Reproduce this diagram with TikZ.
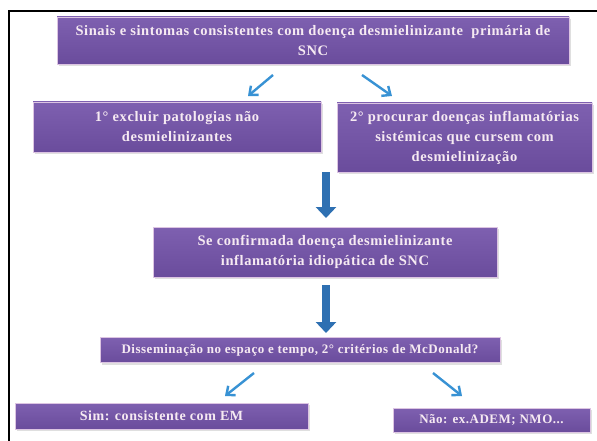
\documentclass[tikz,border=0pt]{standalone}
\usepackage{fontspec}
\setmainfont{Liberation Serif}
\newfontfamily\boxfont[LetterSpace=4]{Liberation Serif}
\usetikzlibrary{arrows.meta,shadows}
\definecolor{boxtop}{RGB}{126,96,176}
\definecolor{boxbot}{RGB}{106,76,156}
\definecolor{boxtext}{RGB}{246,234,242}
\definecolor{thinblue}{RGB}{56,146,212}
\definecolor{blockblue}{RGB}{46,112,178}
\definecolor{boxedge}{RGB}{220,196,226}
\begin{document}
\begin{tikzpicture}[x=1pt,y=-1pt,
  fbox/.style={rectangle, top color=boxtop, bottom color=boxbot, draw=boxedge,
    line width=0.8pt, text=boxtext, font=\boxfont\bfseries\fontsize{14.5}{20}\selectfont,
    align=center, inner sep=0pt,
    drop shadow={opacity=0.25, shadow xshift=1.5pt, shadow yshift=-2pt}},
  smalltext/.style={font=\boxfont\bfseries\fontsize{13}{20}\selectfont},
  midtext/.style={font=\boxfont\bfseries\fontsize{14}{20}\selectfont},
  thinarrow/.style={draw=thinblue, line width=2.4pt, -{Straight Barb[length=7pt,width=12pt]}},
  blockarrow/.style={draw=blockblue, line width=8pt, -{Triangle[length=11pt,width=20pt]}}]
\useasboundingbox (0,0) rectangle (597,441);
\fill[white] (0,0) rectangle (597,441);
\draw[line width=1.2pt] (9,441) -- (9,11) -- (597,11);

\node[fbox, minimum width=512pt, minimum height=47pt] (b1) at (313,40.5)
  {Sinais e sintomas consistentes com doença desmielinizante\ \ primária de\\SNC};
\node[fbox, minimum width=288pt, minimum height=50pt] (b2) at (177,127)
  {1° excluir patologias não\\desmielinizantes};
\node[fbox, minimum width=255pt, minimum height=69pt] (b3) at (464.5,137.5)
  {2° procurar doenças inflamatórias\\sistémicas que cursem com\\desmielinização};
\node[fbox, minimum width=344pt, minimum height=50pt] (b4) at (325,252)
  {Se confirmada doença desmielinizante\\inflamatória idiopática de SNC};
\node[fbox, smalltext, minimum width=400pt, minimum height=25pt] (b5) at (300,350)
  {Disseminação no espaço e tempo, 2° critérios de McDonald?};
\node[fbox, midtext, minimum width=293pt, minimum height=26pt] (b6) at (161.5,416)
  {Sim: consistente com EM};
\node[fbox, smalltext, minimum width=197pt, minimum height=24pt] (b7) at (491.5,420)
  {Não: ex.ADEM; NMO...};

\coordinate (a1s) at (273,75);  \coordinate (a1e) at (248,96);
\coordinate (a2s) at (362,75);  \coordinate (a2e) at (392,96);
\coordinate (v1s) at (326,172); \coordinate (v1e) at (326,218);
\coordinate (v2s) at (326,285); \coordinate (v2e) at (326,333);
\coordinate (a3s) at (254,373); \coordinate (a3e) at (225,396);
\coordinate (a4s) at (433,373); \coordinate (a4e) at (462,396);

\draw[thinarrow] (a1s) -- (a1e);
\draw[thinarrow] (a2s) -- (a2e);
\draw[blockarrow] (v1s) -- (v1e);
\draw[blockarrow] (v2s) -- (v2e);
\draw[thinarrow] (a3s) -- (a3e);
\draw[thinarrow] (a4s) -- (a4e);
\end{tikzpicture}
\end{document}
